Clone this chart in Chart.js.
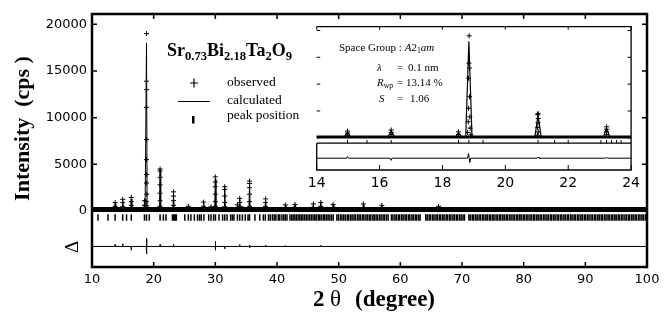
<!DOCTYPE html>
<html>
<head>
<meta charset="utf-8">
<script src="https://cdn.jsdelivr.net/npm/chart.js@4.4.0/dist/chart.umd.min.js"></script>
<style>
  body { margin: 0; background: #fff; }
  #wrap { position: relative; width: 670px; height: 320px; overflow: hidden; }
  #main { position: absolute; left: 0; top: 0; }
  #inset { position: absolute; left: 300px; top: 18px; }
  .t { position: absolute; font-family: "Liberation Serif", "Times New Roman", serif; color: #000; white-space: nowrap; line-height: 1; z-index: 5; }
  .t sub { font-size: 0.7em; vertical-align: -0.3em; line-height: 0; }
  .t i { font-style: italic; }
</style>
</head>
<body>
<div id="wrap">
  <canvas id="main" width="670" height="320"></canvas>
  <canvas id="inset" width="345" height="180"></canvas>

  <div class="t" style="left:167px; top:41px; font-size:18px; font-weight:bold;">Sr<sub>0.73</sub>Bi<sub>2.18</sub>Ta<sub>2</sub>O<sub>9</sub></div>
  <div class="t" style="left:227px; top:75px; font-size:13.5px;">observed</div>
  <div class="t" style="left:227px; top:93px; font-size:13.5px;">calculated</div>
  <div class="t" style="left:227px; top:108px; font-size:13.5px;">peak position</div>

  <div class="t" style="left:339px; top:42px; font-size:11px;">Space Group : <i>A</i>2<sub>1</sub><i>am</i></div>
  <div class="t" style="left:377px; top:62px; font-size:11px;"><i>λ</i></div>
  <div class="t" style="left:397px; top:62px; font-size:11px;">=</div>
  <div class="t" style="left:408px; top:62px; font-size:11px;">0.1 nm</div>
  <div class="t" style="left:377px; top:77px; font-size:11px;"><i>R</i><sub>wp</sub></div>
  <div class="t" style="left:397px; top:77px; font-size:11px;">= 13.14 %</div>
  <div class="t" style="left:379px; top:93px; font-size:11px;"><i>S</i></div>
  <div class="t" style="left:397px; top:93px; font-size:11px;">=</div>
  <div class="t" style="left:410px; top:93px; font-size:11px;">1.06</div>
</div>

<script>
// axis ticks
const mainXTicks = [10, 20, 30, 40, 50, 60, 70, 80, 90, 100];
const mainYTicks = [0, 5000, 10000, 15000, 20000];
const insetXTicks = [14, 16, 18, 20, 22, 24];
const insetYTicks = [0, 5000, 10000, 15000, 20000];

// background level of the scan (cps)
const scanRange = [10, 100];
const bgLevel = 150;

// calculated peak maxima: 2theta (deg) and counts (cps)
const peakTheta = [
  13.75, 14.98, 16.37, 18.51, 18.84, 21.04, 23.22, 25.62, 28.10, 29.30,
  30.00, 31.52, 32.75, 33.58, 33.95, 34.45, 35.55, 36.40, 38.15, 39.25,
  40.50, 41.35, 42.62, 42.92, 44.00, 45.60, 45.90, 47.10, 48.10, 49.10,
  49.40, 50.40, 51.00, 52.90, 54.00, 54.30, 56.70, 57.00, 58.40, 60.50,
  62.10, 64.00, 66.20, 68.60, 70.70, 73.00, 76.70, 78.90, 81.10, 84.50,
  88.00, 92.50
];
const peakCalc = [
  800, 1100, 1300, 950, 18000, 4300, 1850, 450, 850, 400,
  3400, 2400, 350, 600, 1250, 500, 2900, 350, 1200, 300,
  280, 600, 450, 650, 300, 450, 700, 850, 450, 650,
  450, 350, 300, 300, 700, 400, 350, 550, 300, 250,
  250, 300, 450, 280, 300, 220, 250, 200, 250, 200,
  200, 200
];

// observed points drawn as "+"
const obsTheta = [
  13.75, 13.75, 14.98, 14.98, 14.98, 16.37, 16.37, 16.37, 18.51, 18.51,
  18.85, 18.84, 18.86, 18.83, 18.86, 18.83, 18.87, 18.82, 18.88, 18.80, 18.90,
  21.04, 21.03, 21.05, 21.04, 21.03, 21.05, 21.02,
  23.22, 23.22, 23.22, 23.22, 25.62, 28.10, 28.10, 29.30,
  30.00, 30.00, 30.00, 30.00, 30.00, 30.00,
  31.52, 31.52, 31.52, 31.52, 31.52, 33.58, 33.95, 33.95, 33.95,
  35.55, 35.55, 35.55, 35.55, 35.55, 35.55, 38.15, 38.15, 38.15,
  41.35, 42.92, 45.90, 47.10, 47.10, 49.10, 54.00, 57.00, 66.20
];
const obsCounts = [
  900, 500, 1250, 900, 500, 1450, 1000, 600, 1100, 600,
  19000, 13900, 13000, 11100, 7650, 5500, 3900, 3000, 1800, 1000, 550,
  4500, 4300, 3600, 2800, 1900, 1100, 500,
  2050, 1600, 1100, 600, 500, 950, 500, 450,
  3650, 3100, 2600, 1800, 1000, 500,
  2600, 2300, 1600, 900, 450, 650, 1350, 900, 500,
  3200, 2950, 2500, 1800, 1000, 500, 1300, 900, 500,
  650, 700, 750, 900, 500, 700, 750, 600, 500
];

// reflection (peak position) markers
const hklTheta = [
  10.97, 12.60, 13.75, 14.98, 15.60, 16.37, 18.51, 18.84, 19.29, 21.04,
  21.57, 22.00, 23.04, 23.22, 23.38, 23.54, 23.68, 25.05, 25.62, 26.04,
  26.60, 27.12, 27.45, 27.72, 28.15, 28.92, 29.30, 29.72, 30.02, 30.60,
  31.18, 31.52, 31.90, 32.48, 32.75, 33.02, 33.58, 33.95, 34.38, 34.85,
  35.30, 35.55, 36.42, 37.20, 37.78, 38.10, 38.62, 38.90, 39.25, 39.55,
  39.82, 40.20, 40.45, 40.80, 41.10, 41.35, 41.62, 42.10, 42.38, 42.62,
  42.90, 43.15, 43.42, 43.70, 43.95, 44.20, 44.48, 44.75, 45.02, 45.30,
  45.58, 45.85, 46.12, 46.36, 46.68, 46.92, 47.18, 47.50, 47.74, 48.02,
  48.28, 48.57, 48.85, 49.12, 49.71, 49.96, 50.27, 50.53, 50.81, 51.08,
  51.40, 51.63, 51.94, 52.18, 52.49, 52.73, 53.06, 53.31, 53.56, 53.88,
  54.10, 54.42, 54.68, 54.97, 55.22, 55.55, 55.78, 56.07, 56.33, 56.64,
  56.88, 57.20, 57.43, 57.74, 58.02, 58.56, 58.80, 59.12, 59.36, 59.67,
  59.90, 60.22, 60.46, 60.77, 61.00, 61.32, 61.55, 61.87, 62.10, 62.42,
  62.66, 62.97, 63.20, 64.12, 64.36, 64.67, 64.90, 65.22, 65.46, 65.77,
  66.00, 66.32, 66.55, 66.87, 67.10, 67.42, 67.66, 67.97, 68.20, 68.52,
  68.76, 69.07, 69.30, 69.62, 69.86, 70.17, 70.40, 71.12, 71.36, 71.67,
  71.90, 72.22, 72.46, 72.77, 73.00, 73.32, 73.55, 73.87, 74.10, 74.42,
  74.66, 74.97, 75.20, 75.52, 75.76, 76.07, 76.30, 76.62, 76.86, 77.17,
  77.40, 77.72, 77.96, 78.27, 78.50, 78.82, 79.06, 79.37, 79.60, 79.92,
  80.16, 80.47, 80.70, 81.02, 81.26, 81.57, 81.80, 82.12, 82.36, 82.67,
  82.90, 83.22, 83.46, 83.77, 84.00, 84.32, 84.56, 84.87, 85.10, 85.42,
  85.66, 85.97, 86.20, 86.52, 86.76, 87.07, 87.30, 87.62, 87.86, 88.17,
  88.40, 88.72, 88.96, 89.27, 89.50, 89.82, 90.06, 90.37, 90.60, 90.92,
  91.16, 91.47, 91.70, 92.02, 92.26, 92.57, 92.80, 93.12, 93.36, 93.67,
  93.90, 94.22, 94.46, 94.77, 95.00, 95.32, 95.56, 95.87, 96.10, 96.42,
  96.66, 96.97, 97.20, 97.52, 97.76, 98.07, 98.30, 98.62, 98.86, 99.17,
  99.40, 99.72
];
const hklLevel = -700;

// difference curve (obs - calc), shifted below the pattern
const diffTheta = [
  10.00, 13.72, 13.75, 13.78, 14.95, 14.98, 15.01, 16.34, 16.37, 16.40,
  18.80, 18.83, 18.87, 18.90, 21.01, 21.04, 21.07, 23.19, 23.22, 23.25,
  29.97, 30.00, 30.03, 30.06, 31.49, 31.52, 31.55, 33.92, 33.95, 33.98,
  35.52, 35.55, 35.58, 35.61, 38.12, 38.15, 38.18, 41.32, 41.35, 41.38,
  47.07, 47.10, 47.13, 100.00
];
const diffCounts = [
  -3800, -3800, -3600, -3800, -3800, -3500, -3800, -3800, -4200, -3800,
  -3800, -2950, -4600, -3800, -3800, -3600, -3800, -3800, -3600, -3800,
  -3800, -3250, -4200, -3800, -3800, -4050, -3800, -3800, -3600, -3800,
  -3800, -3650, -3950, -3800, -3800, -3650, -3800, -3800, -3700, -3800,
  -3800, -3680, -3800, -3800
];

// calculated profile: each maximum joined to the background
const calcHalfWidth = 0.1;
const calcProfile = [{ x: scanRange[0], y: bgLevel }];
peakTheta.forEach(function (t, i) {
  calcProfile.push({ x: t - calcHalfWidth, y: bgLevel });
  calcProfile.push({ x: t, y: peakCalc[i] });
  calcProfile.push({ x: t + calcHalfWidth, y: bgLevel });
});
calcProfile.push({ x: scanRange[1], y: bgLevel });

const obsPoints = obsTheta.map(function (t, i) { return { x: t, y: obsCounts[i] }; });
const hklPoints = hklTheta.map(function (t) { return { x: t, y: hklLevel }; });
const diffPoints = diffTheta.map(function (t, i) { return { x: t, y: diffCounts[i] }; });
const bgPoints = scanRange.map(function (t) { return { x: t, y: bgLevel }; });

function makeDatasets(s) {
  return [
    { label: "observed", data: obsPoints, showLine: false, pointStyle: "cross",
      pointRadius: s.cross, pointBorderWidth: 1, borderColor: "#000", backgroundColor: "#000" },
    { label: "calculated", data: calcProfile, showLine: true, pointRadius: 0,
      borderColor: "#000", borderWidth: s.calcWidth, tension: 0 },
    { label: "observed background", data: bgPoints, showLine: true, pointRadius: 0,
      borderColor: "#000", borderWidth: s.bandWidth, tension: 0 },
    { label: "peak position", data: hklPoints, showLine: false, pointStyle: "line",
      pointRotation: 90, pointRadius: s.hklLen, pointBorderWidth: s.hklWidth, borderColor: "#000" },
    { label: "difference", data: diffPoints, showLine: true, pointRadius: 0,
      borderColor: "#000", borderWidth: 1, tension: 0 }
  ];
}

function setTicks(list) {
  return function (scale) { scale.ticks = list.map(function (v) { return { value: v }; }); };
}

const serif = '"Liberation Serif", "Times New Roman", serif';

const mainFrame = {
  id: "mainFrame",
  afterDraw: function (chart) {
    const ctx = chart.ctx, a = chart.chartArea, x = chart.scales.x, y = chart.scales.y;
    ctx.save();
    ctx.strokeStyle = "#000";
    ctx.lineWidth = 1.5;
    ctx.beginPath();
    mainXTicks.forEach(function (v) {
      const px = x.getPixelForValue(v);
      ctx.moveTo(px, a.bottom); ctx.lineTo(px, a.bottom - 5);
      ctx.moveTo(px, a.top); ctx.lineTo(px, a.top + 5);
    });
    mainYTicks.forEach(function (v) {
      const py = y.getPixelForValue(v);
      ctx.moveTo(a.left, py); ctx.lineTo(a.left + 5, py);
      ctx.moveTo(a.right, py); ctx.lineTo(a.right - 5, py);
    });
    ctx.stroke();

    ctx.lineWidth = 2.5;
    ctx.strokeRect(a.left, a.top, a.right - a.left, a.bottom - a.top);

    // legend symbols
    ctx.lineWidth = 1.2;
    ctx.beginPath();
    ctx.moveTo(190, 83); ctx.lineTo(198, 83);
    ctx.moveTo(194, 78.5); ctx.lineTo(194, 87.5);
    ctx.moveTo(178, 101.5); ctx.lineTo(210, 101.5);
    ctx.stroke();
    ctx.fillStyle = "#000";
    ctx.fillRect(192, 116, 2.5, 7.5);

    // axis titles
    ctx.font = "bold 22px " + serif;
    ctx.save();
    ctx.translate(29, 128.5);
    ctx.rotate(-Math.PI / 2);
    ctx.textAlign = "center";
    ctx.fillText("Intensity  (cps )", 0, 0);
    ctx.restore();

    ctx.textAlign = "left";
    ctx.font = "bold 23px " + serif;
    ctx.fillText("2", 313, 306);
    ctx.font = "23px " + serif;
    ctx.fillText("θ", 330, 306);
    ctx.font = "bold 23px " + serif;
    ctx.fillText("(degree)", 355, 306);

    ctx.save();
    ctx.translate(78, 247);
    ctx.rotate(-Math.PI / 2);
    ctx.textAlign = "center";
    ctx.font = "19px " + serif;
    ctx.fillText("Δ", 0, 0);
    ctx.restore();
    ctx.restore();
  }
};

const insetFrame = {
  id: "insetFrame",
  beforeDraw: function (chart) {
    const ctx = chart.ctx, a = chart.chartArea;
    ctx.save();
    ctx.fillStyle = "#fff";
    ctx.fillRect(a.left, a.top, a.right - a.left, a.bottom - a.top);
    ctx.restore();
  },
  afterDraw: function (chart) {
    const ctx = chart.ctx, a = chart.chartArea, x = chart.scales.x, y = chart.scales.y;
    const sep = y.getPixelForValue(-1000);
    ctx.save();
    ctx.strokeStyle = "#000";
    ctx.lineWidth = 1;
    ctx.beginPath();
    insetXTicks.forEach(function (v) {
      const px = x.getPixelForValue(v);
      ctx.moveTo(px, a.bottom); ctx.lineTo(px, a.bottom - 5);
      ctx.moveTo(px, a.top); ctx.lineTo(px, a.top + 3);
    });
    insetYTicks.forEach(function (v) {
      const py = y.getPixelForValue(v);
      if (py > sep - 3) return;
      ctx.moveTo(a.left, py); ctx.lineTo(a.left + 3.5, py);
      ctx.moveTo(a.right, py); ctx.lineTo(a.right - 3.5, py);
    });
    ctx.stroke();

    ctx.lineWidth = 1.3;
    ctx.beginPath();
    ctx.moveTo(a.left, a.top); ctx.lineTo(a.right, a.top);
    ctx.lineTo(a.right, a.bottom); ctx.lineTo(a.left, a.bottom);
    ctx.lineTo(a.left, sep);
    ctx.moveTo(a.left, sep); ctx.lineTo(a.right, sep);
    ctx.stroke();
    ctx.restore();
  }
};

const tickFont = { family: "DejaVu Sans", size: 13 };

new Chart(document.getElementById("main"), {
  type: "scatter",
  data: { datasets: makeDatasets({ cross: 2.5, calcWidth: 1, bandWidth: 5, hklLen: 3.2, hklWidth: 1.5 }) },
  options: {
    responsive: false,
    animation: false,
    events: [],
    layout: { padding: { top: 14, right: 23, left: 0, bottom: 0 } },
    plugins: { legend: { display: false }, tooltip: { enabled: false } },
    scales: {
      x: {
        type: "linear", min: 10, max: 100,
        afterBuildTicks: setTicks(mainXTicks),
        afterFit: function (s) { s.height = 53; },
        grid: { display: false, drawTicks: false },
        border: { display: false },
        ticks: { font: tickFont, color: "#000", padding: 5, maxRotation: 0, autoSkip: false,
                 callback: function (v) { return String(v); } }
      },
      y: {
        type: "linear", min: -6000, max: 21100,
        afterBuildTicks: setTicks(mainYTicks),
        afterFit: function (s) { s.width = 92; },
        grid: { display: false, drawTicks: false },
        border: { display: false },
        ticks: { font: tickFont, color: "#000", padding: 5, autoSkip: false,
                 callback: function (v) { return String(v); } }
      }
    }
  },
  plugins: [mainFrame]
});

new Chart(document.getElementById("inset"), {
  type: "scatter",
  data: { datasets: makeDatasets({ cross: 2.5, calcWidth: 1.2, bandWidth: 3, hklLen: 1.6, hklWidth: 1 }) },
  options: {
    responsive: false,
    animation: false,
    events: [],
    layout: { padding: { top: 8.7, right: 12, left: 16.7, bottom: 0 } },
    plugins: { legend: { display: false }, tooltip: { enabled: false } },
    scales: {
      x: {
        type: "linear", min: 14, max: 24,
        afterBuildTicks: setTicks(insetXTicks),
        afterFit: function (s) { s.height = 28; },
        grid: { display: false, drawTicks: false },
        border: { display: false },
        ticks: { font: { family: "DejaVu Sans", size: 14 }, color: "#000", padding: 5, maxRotation: 0, autoSkip: false,
                 callback: function (v) { return String(v); } }
      },
      y: {
        type: "linear", min: -6000, max: 20700, display: false,
        afterBuildTicks: setTicks(insetYTicks)
      }
    }
  },
  plugins: [insetFrame]
});
</script>
</body>
</html>
